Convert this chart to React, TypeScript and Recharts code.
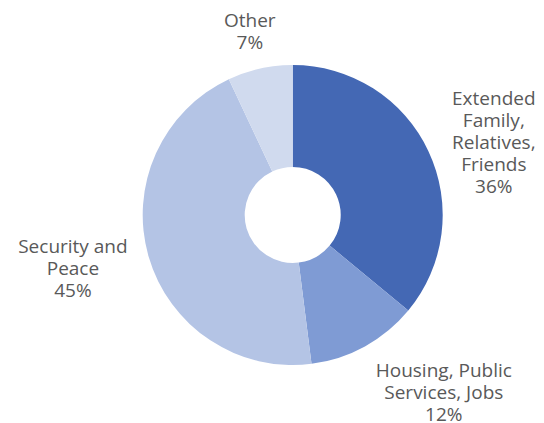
import React from "react";
import { PieChart, Pie, Cell } from "recharts";

const categories = [
  "Extended Family, Relatives, Friends",
  "Housing, Public Services, Jobs",
  "Security and Peace",
  "Other",
];
const categoryLines = [
  ["Extended", "Family,", "Relatives,", "Friends"],
  ["Housing, Public", "Services, Jobs"],
  ["Security and", "Peace"],
  ["Other"],
];
const shares = [36, 12, 45, 7];
const colors = ["#4468b4", "#7f9bd4", "#b4c4e5", "#d0daee"];

const data = categories.map((name, i) => ({ name, value: shares[i] }));

const FONT = 19;
const LINE = 22;
const CHAR_W = 9.1;
const RAD = Math.PI / 180;

function renderLabel(props: any) {
  const { cx, cy, midAngle, outerRadius, index } = props;
  const lines = [...categoryLines[index], `${shares[index]}%`];
  const w = (Math.max(...lines.map((l) => l.length)) * CHAR_W) / 2;
  const h = (lines.length * LINE) / 2;
  const c = Math.cos(-midAngle * RAD);
  const s = Math.sin(-midAngle * RAD);
  const r = outerRadius + 22;
  const px = cx + r * c;
  const py = cy + r * s;
  const k = Math.sign(c) * Math.min(1, Math.pow(Math.abs(c) / 0.45, 2));
  const x = px + w * k;
  const y = py + h * s * s * s + 4;
  const top = y - ((lines.length - 1) * LINE) / 2;
  return (
    <text
      x={x}
      y={top}
      textAnchor="middle"
      dominantBaseline="central"
      fill="#595959"
      fontSize={FONT}
      fontFamily="'Open Sans', sans-serif"
    >
      {lines.map((l, i) => (
        <tspan key={i} x={x} y={top + i * LINE}>
          {l}
        </tspan>
      ))}
    </text>
  );
}

export default function App() {
  return (
    <div style={{ position: "absolute", left: 0, top: 0, background: "#fff" }}>
      <PieChart width={544} height={423} margin={{ top: 0, right: 0, bottom: 0, left: 0 }}>
        <Pie
          data={data}
          dataKey="value"
          nameKey="name"
          cx={292.7}
          cy={215}
          outerRadius={150}
          innerRadius={48}
          startAngle={90}
          endAngle={-270}
          stroke="none"
          label={renderLabel}
          labelLine={false}
          isAnimationActive={false}
        >
          {data.map((d, i) => (
            <Cell key={d.name} fill={colors[i]} />
          ))}
        </Pie>
      </PieChart>
    </div>
  );
}
